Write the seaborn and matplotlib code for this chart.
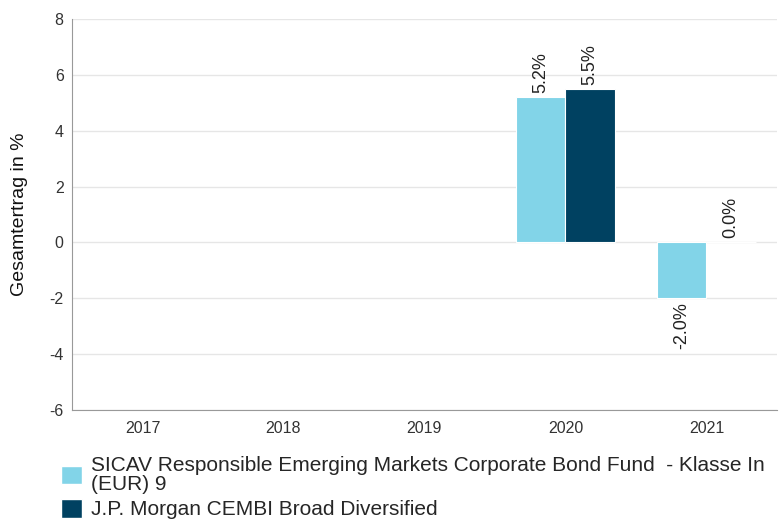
import numpy as np
import pandas as pd
import seaborn as sns
import matplotlib.pyplot as plt
from matplotlib.patches import Patch

years = ['2017', '2018', '2019', '2020', '2021']
fund_values = [np.nan, np.nan, np.nan, 5.2, -2.0]
bench_values = [np.nan, np.nan, np.nan, 5.5, 0.0]
fund_name = 'SICAV Responsible Emerging Markets Corporate Bond Fund  - Klasse In\n(EUR) 9'
bench_name = 'J.P. Morgan CEMBI Broad Diversified'
colors = ['#82d4e8', '#004161']

df = pd.DataFrame({
    'Jahr': years * 2,
    'Wert': fund_values + bench_values,
    'Serie': [fund_name] * len(years) + [bench_name] * len(years),
})

sns.set_style('white')
plt.rcParams['font.family'] = ['Liberation Sans', 'DejaVu Sans']
plt.rcParams['axes.unicode_minus'] = False

fig = plt.figure(figsize=(7.8, 5.21), dpi=100)
ax = fig.add_axes([0.0923, 0.213, 0.9037, 0.7505])

sns.barplot(data=df, x='Jahr', y='Wert', hue='Serie', palette=colors, saturation=1,
            width=0.7, edgecolor='white', linewidth=0.8, ax=ax, legend=False)

ax.set_ylim(-6, 8)
ax.set_yticks(range(-6, 9, 2))
ax.grid(axis='y', color='#e6e6e6', linewidth=1)
ax.set_axisbelow(True)
for s in ['top', 'right']:
    ax.spines[s].set_visible(False)
ax.spines['left'].set_color('#999999')
ax.spines['bottom'].set_color('#999999')
ax.tick_params(axis='both', colors='#333333', labelsize=11.5, length=0, pad=6)
ax.tick_params(axis='x', pad=8)
ax.set_xlabel('')
ax.set_ylabel('Gesamtertrag in %', fontsize=14, color='#111111', labelpad=15)

for cont in ax.containers:
    labels = ['' if np.isnan(v) else f'{v:.1f}%' for v in cont.datavalues]
    ax.bar_label(cont, labels=labels, rotation=90, fontsize=13, padding=3, color='#222222')

handles = [Patch(facecolor=colors[0]), Patch(facecolor=colors[1])]
leg = fig.legend(handles, [fund_name, bench_name], loc='lower left', bbox_to_anchor=(0.068, -0.013),
                 frameon=False, fontsize=15, handlelength=1.0, handleheight=1.0,
                 handletextpad=0.4, labelspacing=0.25, borderaxespad=0)
for t in leg.get_texts():
    t.set_linespacing(1.0)

fig.savefig('out.png', dpi=100)
